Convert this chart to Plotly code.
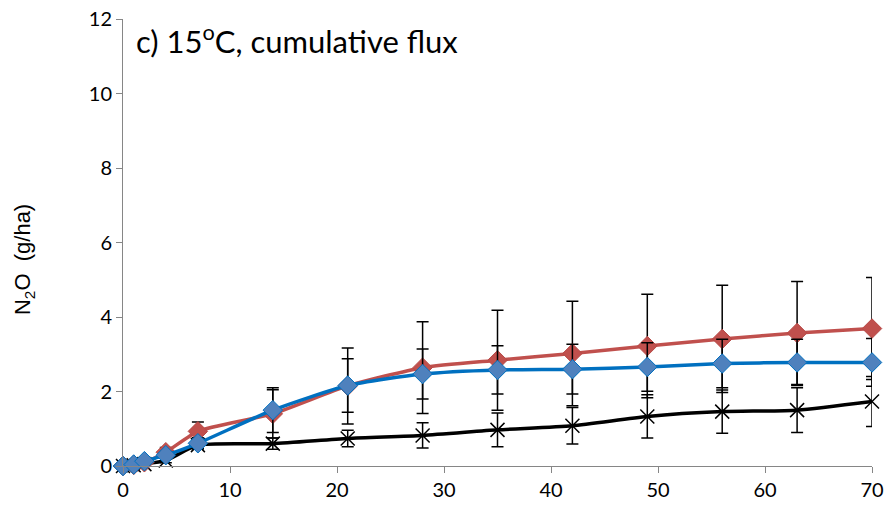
import plotly.graph_objects as go

days = [0, 1, 2, 4, 7, 14, 21, 28, 35, 42, 49, 56, 63, 70]
red_vals = [0, 0.03, 0.10, 0.37, 0.93, 1.40, 2.15, 2.64, 2.84, 3.02, 3.22, 3.41, 3.57, 3.69]
red_err = [0, 0.01, 0.03, 0.13, 0.25, 0.65, 1.02, 1.23, 1.34, 1.40, 1.39, 1.44, 1.38, 1.37]
blue_vals = [0, 0.04, 0.13, 0.29, 0.61, 1.50, 2.16, 2.47, 2.58, 2.60, 2.66, 2.75, 2.78, 2.78]
blue_err = [0, 0.01, 0.03, 0.08, 0.15, 0.60, 0.72, 0.67, 0.65, 0.67, 0.65, 0.65, 0.62, 0.64]
black_vals = [0, 0.02, 0.05, 0.15, 0.56, 0.60, 0.74, 0.82, 0.97, 1.08, 1.33, 1.46, 1.50, 1.73]
black_err = [0, 0.01, 0.02, 0.06, 0.10, 0.15, 0.22, 0.34, 0.45, 0.49, 0.58, 0.58, 0.60, 0.67]

x_ticks = [0, 10, 20, 30, 40, 50, 60, 70]
y_ticks = [0, 2, 4, 6, 8, 10, 12]

def err(arr):
    return dict(type="data", array=arr, visible=True, color="black", thickness=1.5, width=6)

fig = go.Figure()
fig.add_trace(go.Scatter(
    x=days, y=black_vals, mode="lines+markers", cliponaxis=False,
    line=dict(color="black", width=3.5, shape="spline", smoothing=0.6),
    marker=dict(symbol="x-thin", size=14, line=dict(color="black", width=1.5), color="black"),
    error_y=err(black_err), showlegend=False))
fig.add_trace(go.Scatter(
    x=days, y=red_vals, mode="lines+markers", cliponaxis=False,
    line=dict(color="#C0504D", width=3.5, shape="spline", smoothing=0.6),
    marker=dict(symbol="diamond", size=15, color="#C0504D", line=dict(color="#B84A47", width=1)),
    error_y=err(red_err), showlegend=False))
fig.add_trace(go.Scatter(
    x=days, y=blue_vals, mode="lines+markers", cliponaxis=False,
    line=dict(color="#0070C0", width=3.5, shape="spline", smoothing=0.6),
    marker=dict(symbol="diamond", size=15, color="#4F81BD", line=dict(color="#0070C0", width=1)),
    error_y=err(blue_err), showlegend=False))

fig.add_annotation(
    text="c) 15<sup>o</sup>C, cumulative flux", xref="paper", yref="paper",
    x=0.015, y=0.955, xanchor="left", yanchor="middle", showarrow=False,
    font=dict(family="Lato, Open Sans, sans-serif", size=31, color="black"))

fig.add_annotation(
    text="N<sub>2</sub>O  (g/ha)", xref="paper", yref="paper",
    x=-0.132, y=0.461, xanchor="center", yanchor="middle", showarrow=False,
    textangle=-90,
    font=dict(family="Liberation Sans, Arial, sans-serif", size=22, color="black"))

fig.update_layout(
    width=887, height=512,
    margin=dict(l=123, r=15, t=19, b=46, autoexpand=False),
    plot_bgcolor="white", paper_bgcolor="white",
    font=dict(family="Lato, sans-serif", size=20, color="black"),
)
fig.update_xaxes(
    range=[0, 70], tickvals=x_ticks, showgrid=False, zeroline=False,
    showline=True, linecolor="#868686", linewidth=1, automargin=False,
    ticks="outside", ticklen=6, tickcolor="#868686", ticklabeloverflow="allow",
    tickfont=dict(family="Lato, sans-serif", size=20))
fig.update_yaxes(
    range=[0, 12], tickvals=y_ticks, showgrid=False, zeroline=False,
    showline=True, linecolor="#868686", linewidth=1, automargin=False,
    ticks="outside", ticklen=6, tickcolor="#868686", ticklabeloverflow="allow",
    tickfont=dict(family="Lato, sans-serif", size=20))

fig.write_html(
    "out.html",
    config={"displayModeBar": False},
    post_script="document.body.style.margin='0';document.body.style.overflow='hidden';")
